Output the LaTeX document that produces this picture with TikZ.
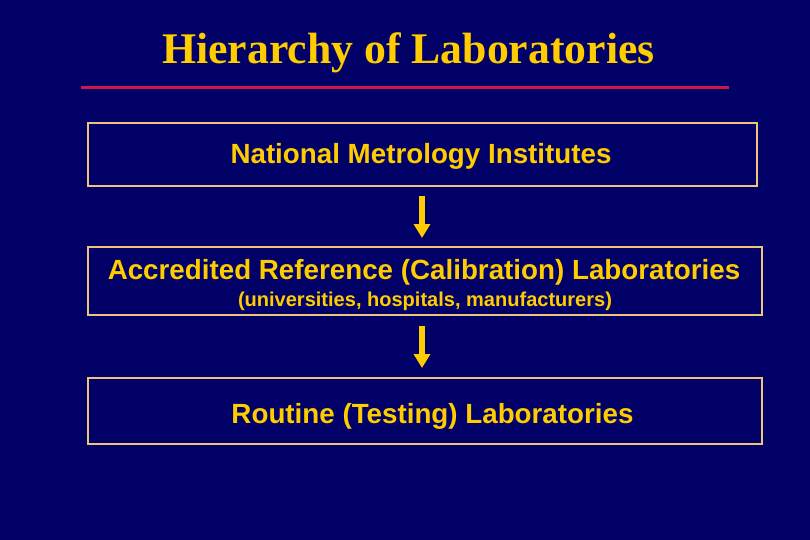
\documentclass[tikz,border=0pt]{standalone}
\usepackage{fontspec}
\setmainfont{Liberation Sans}
\newfontfamily\titlefont{Liberation Serif}
\usepackage{tikz}
\usetikzlibrary{arrows.meta}

\definecolor{slidebg}{HTML}{000066}
\definecolor{labyellow}{HTML}{FFCC00}
\definecolor{boxedge}{HTML}{EEC47A}
\definecolor{rulered}{HTML}{D0164A}

\tikzset{
    labbox/.style={draw=boxedge, line width=0.04cm, minimum width=13.48cm},
    labtext/.style={anchor=base, text=labyellow, font=\fontsize{15.8}{18}\selectfont\bfseries},
    subtext/.style={anchor=base, text=labyellow, font=\fontsize{11.4}{13}\selectfont\bfseries},
    downarrow/.style={draw=labyellow, line width=0.12cm,
        -{Triangle[width=0.32cm,length=0.28cm]}}
}

\begin{document}
\begin{tikzpicture}[x=0.02cm, y=-0.02cm]
        \fill[slidebg] (0,0) rectangle (810,540);
        \node[anchor=base, text=labyellow, font=\titlefont\fontsize{24.9}{28}\selectfont\bfseries] (title) at (408.5,64) {Hierarchy of Laboratories};
        \coordinate (ruleL) at (81,88);
        \coordinate (ruleR) at (729,88);
        \draw[rulered, line width=0.06cm] (ruleL) -- (ruleR);

        \node[labbox, minimum width=13.38cm, minimum height=1.26cm] (nmi) at (422.5,154.5) {};
        \node[labtext] (nmitext) at (421,164) {National Metrology Institutes};

        \node[labbox, minimum height=1.36cm] (arl) at (425,281) {};
        \node[labtext] (arltext) at (424,279) {Accredited Reference (Calibration) Laboratories};
        \node[subtext] (arlsub) at (425,306) {(universities, hospitals, manufacturers)};

        \node[labbox, minimum height=1.32cm] (rtl) at (425,411) {};
        \node[labtext] (rtltext) at (432.5,423) {Routine (Testing) Laboratories};

        \coordinate (a1top) at (422,196);
        \coordinate (a1bot) at (422,238);
        \coordinate (a2top) at (422,326);
        \coordinate (a2bot) at (422,368);
        \draw[downarrow] (a1top) -- (a1bot);
        \draw[downarrow] (a2top) -- (a2bot);
    \end{tikzpicture}
\end{document}
